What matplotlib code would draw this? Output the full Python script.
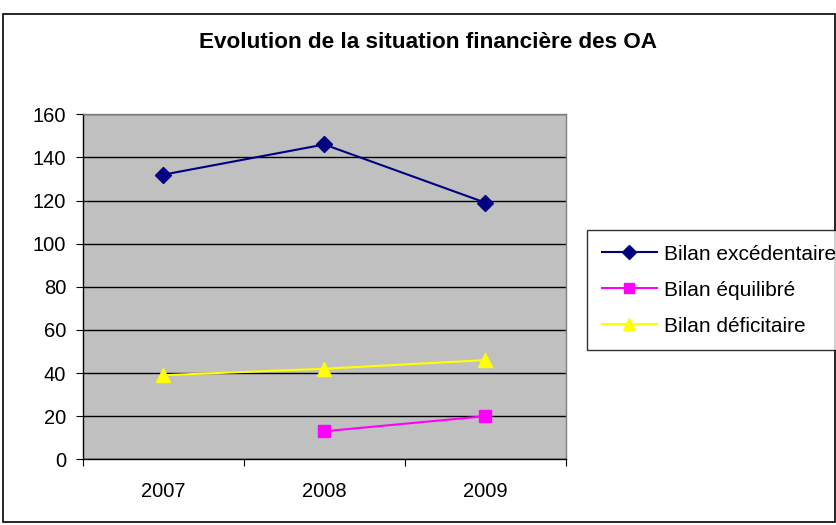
import matplotlib
matplotlib.use("Agg")
import matplotlib.pyplot as plt
from matplotlib.patches import Rectangle

years = ["2007", "2008", "2009"]
excedentaire = [132, 146, 119]
equilibre = [None, 13, 20]
deficitaire = [39, 42, 46]
labels = ["Bilan excédentaire", "Bilan équilibré", "Bilan déficitaire"]
title = "Evolution de la situation financière des OA"
yticks = [0, 20, 40, 60, 80, 100, 120, 140, 160]

plt.rcParams['font.family'] = ['Liberation Sans', 'DejaVu Sans']

fig = plt.figure(figsize=(8.37, 5.25), dpi=100)
fig.patch.set_facecolor('white')
fig.patches.append(Rectangle((3/837, 3/525), 832/837, 508/525, transform=fig.transFigure,
                             fill=False, edgecolor='black', linewidth=1.2))

ax = fig.add_axes([82.7/837, 1 - 459.3/525, 483.3/837, 345/525])
ax.set_facecolor('#C0C0C0')

x = [1, 2, 3]
ax.plot(x, excedentaire, color='#000080', marker='D', markersize=8, linewidth=1.5, label=labels[0], zorder=3)
eq_x = [xi for xi, v in zip(x, equilibre) if v is not None]
eq_v = [v for v in equilibre if v is not None]
ax.plot(eq_x, eq_v, color='#FF00FF', marker='s', markersize=8, linewidth=1.5, label=labels[1], zorder=3)
ax.plot(x, deficitaire, color='#FFFF00', marker='^', markersize=10, linewidth=1.5, label=labels[2], zorder=3)

ax.set_xlim(0.5, 3.5)
ax.set_ylim(0, 160)
ax.set_yticks(yticks)
ax.yaxis.grid(True, color='black', linewidth=1)
ax.set_axisbelow(True)
ax.set_xticks([0.5, 1.5, 2.5, 3.5])
ax.set_xticklabels([])
ax.set_xticks(x, minor=True)
ax.set_xticklabels(years, minor=True)
ax.tick_params(axis='x', which='major', length=5, color='black')
ax.tick_params(axis='x', which='minor', length=0, pad=16, labelsize=14.5)
ax.tick_params(axis='y', length=5, labelsize=14.5, pad=7)
for s in ['left', 'bottom']:
    ax.spines[s].set_color('black')
    ax.spines[s].set_linewidth(1)
for s in ['top', 'right']:
    ax.spines[s].set_color('#808080')
    ax.spines[s].set_linewidth(1)

fig.text(428/837, 1 - 43/525, title, ha='center', va='center', fontsize=16.2, fontweight='bold')

leg = fig.legend(loc='upper left', bbox_to_anchor=(587/837, 1 - 230/525), fontsize=15,
                 frameon=True, fancybox=False, edgecolor='black', handlelength=2.65,
                 borderpad=0.7, labelspacing=0.82, handletextpad=0.35, borderaxespad=0,
                 markerscale=0.9)
leg.get_frame().set_linewidth(1)

fig.savefig("out.png", dpi=100)
